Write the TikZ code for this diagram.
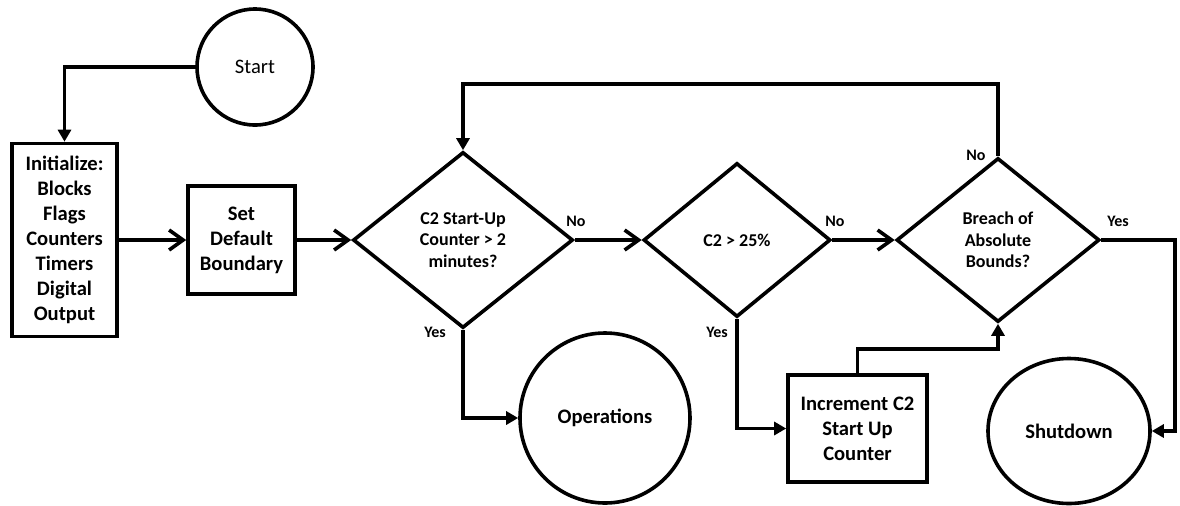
\documentclass[tikz,border=0pt]{standalone}
\usepackage{fontspec}
\setmainfont{Carlito}
\usetikzlibrary{shapes.geometric,arrows.meta}

\begin{document}
\begin{tikzpicture}[x=0.5pt,y=-0.5pt,line width=1.8pt,
  box/.style={draw,rectangle,inner sep=0pt,align=center,font=\bfseries\fontsize{10.3}{12.5}\selectfont},
  term/.style={draw,circle,inner sep=0pt,font=\bfseries\fontsize{10.3}{12.5}\selectfont},
  decision/.style={draw,diamond,inner sep=0pt,align=center,font=\bfseries\fontsize{9}{10.75}\selectfont},
  lbl/.style={font=\bfseries\fontsize{8}{9}\selectfont},
  fl/.style={-{Triangle[length=6pt,width=6.5pt]}},
  op/.style={-{Straight Barb[length=7pt,width=10pt]}}]

\useasboundingbox (0,0) rectangle (1180,505);

% Start and setup
\node[term,font=\fontsize{10.3}{12.5}\selectfont,minimum size=58pt] (start) at (255,67) {Start};
\node[box,minimum width=52.5pt,minimum height=96.5pt] (init) at (64.5,240) {Initialize:\\Blocks\\Flags\\Counters\\Timers\\Digital\\Output};
\node[box,minimum width=53.5pt,minimum height=54pt] (setb) at (241.5,240) {Set\\Default\\Boundary};

% Decisions
\node[decision,minimum width=110pt,minimum height=88pt] (dec1) at (463,240) {C2 Start-Up\\Counter > 2\\minutes?};
\node[decision,minimum width=93.5pt,minimum height=77pt] (dec2) at (737,240) {C2 > 25\%};
\node[decision,minimum width=101.5pt,minimum height=82pt] (dec3) at (998,240) {Breach of\\Absolute\\Bounds?};

% Outcomes
\node[term,minimum size=85pt] (ops) at (605,418) {Operations};
\node[box,minimum width=69.5pt,minimum height=53.5pt] (incr) at (857.5,428.5) {Increment C2\\Start Up\\Counter};
\node[term,ellipse,minimum width=81pt,minimum height=72.5pt] (shut) at (1069,431) {Shutdown};

% Bends
\coordinate (loop) at (730,84);
\coordinate (rt) at (1175,240);
\coordinate (mid) at (930,349);

% Main flow
\draw[fl] (start.west) -| (init.north);
\draw[op] (init.east) -- (setb.west);
\draw[op] (setb.east) -- (dec1.west);
\draw[op] (dec1.east) -- (dec2.west);
\draw[op] (dec2.east) -- (dec3.west);

% Branches
\draw[fl] (dec3.north) |- (loop) -| (dec1.north);
\draw[fl] (dec3.east) -- (rt) |- (shut.east);
\draw[fl] (dec1.south) |- (ops.west);
\draw[fl] (dec2.south) |- (incr.west);
\draw[fl] (incr.north) |- (mid) -| (dec3.south);

% Labels
\node[lbl] (no1) at (576,221) {No};
\node[lbl] (no2) at (835,221) {No};
\node[lbl] (no3) at (976,155) {No};
\node[lbl] (yes1) at (435,332) {Yes};
\node[lbl] (yes2) at (717,332) {Yes};
\node[lbl] (yes3) at (1118,221) {Yes};

\end{tikzpicture}
\end{document}
